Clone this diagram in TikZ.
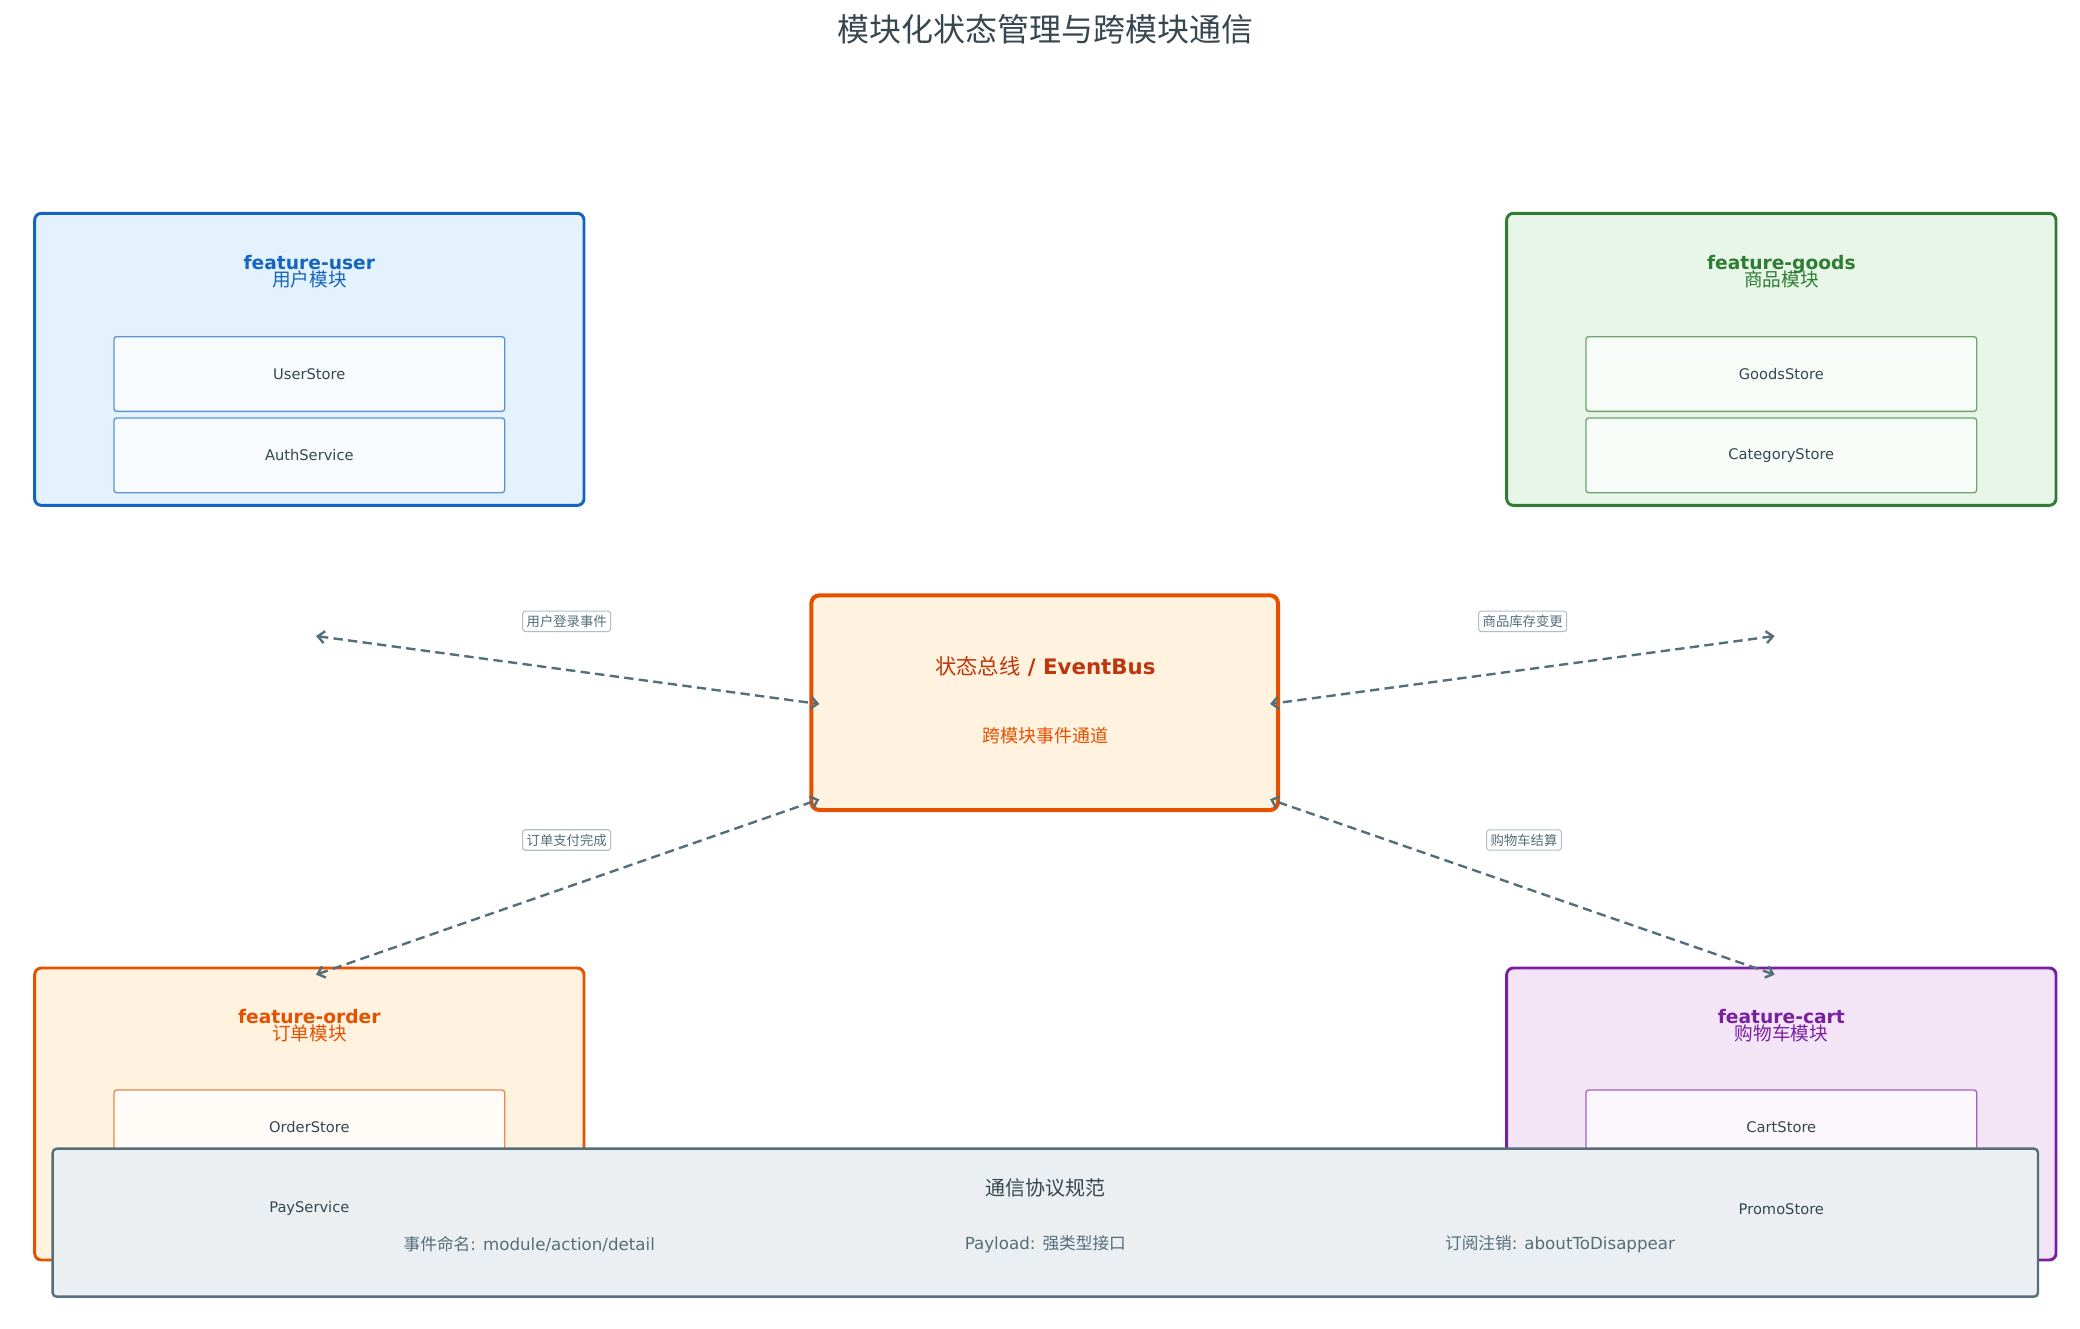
\documentclass[tikz,border=0pt]{standalone}
\usepackage{fontspec}
\setmainfont{DejaVu Sans}
\newfontfamily\cjk{Noto Sans CJK SC}
\usetikzlibrary{positioning,arrows.meta}
\definecolor{usrline}{HTML}{1565C0}\definecolor{usrfill}{HTML}{E3F2FD}
\definecolor{gdsline}{HTML}{2E7D32}\definecolor{gdsfill}{HTML}{E8F5E9}
\definecolor{ordline}{HTML}{E65100}\definecolor{ordfill}{HTML}{FFF3E0}
\definecolor{crtline}{HTML}{7B1FA2}\definecolor{crtfill}{HTML}{F3E5F5}
\definecolor{busdark}{HTML}{BF360C}
\definecolor{slate}{HTML}{546E7A}\definecolor{slatefill}{HTML}{ECEFF1}
\definecolor{txt}{HTML}{37474F}
\tikzset{
  module/.style={rounded corners=5pt, line width=2.2pt, outer sep=0pt, minimum width=412pt, minimum height=219pt, anchor=north west},
  store/.style={rounded corners=2pt, line width=1pt, outer sep=0pt, minimum width=293pt, minimum height=56pt, anchor=north west},
  storetext/.style={font=\fontsize{11}{13}\selectfont, text=txt},
  modtitle/.style={font=\bfseries\fontsize{14}{16}\selectfont, align=center},
  link/.style={{Straight Barb[length=5pt,width=9pt]}-{Straight Barb[length=5pt,width=9pt]}, line width=1.8pt, draw=slate, dash pattern=on 7pt off 4pt},
  tag/.style={draw=slate!45, fill=white, rounded corners=2pt, inner sep=3pt, text=slate, solid, line width=0.8pt, font=\cjk\fontsize{10}{11}\selectfont},
}
\begin{document}
\begin{tikzpicture}[x=1pt,y=-1pt]
\useasboundingbox (0,0) rectangle (1560,996);
\node[font=\cjk\fontsize{24}{28}\selectfont, text=txt] (title) at (784,22) {模块化状态管理与跨模块通信};
% feature-user
\node[module, draw=usrline, fill=usrfill] (user) at (26,160) {};
\node[modtitle, text=usrline] (usert) at (232,204) {feature-user\\[-3pt]{\cjk\mdseries 用户模块}};
\node[store, draw=usrline!70, fill=usrfill!30] (ustore) at (85.5,252.5) {};
\node[storetext] at (ustore.center) {UserStore};
\node[store, draw=usrline!70, fill=usrfill!30] (uauth) at (85.5,313.5) {};
\node[storetext] at (uauth.center) {AuthService};
% feature-goods
\node[module, draw=gdsline, fill=gdsfill] (goods) at (1130,160) {};
\node[modtitle, text=gdsline] (goodst) at (1336,204) {feature-goods\\[-3pt]{\cjk\mdseries 商品模块}};
\node[store, draw=gdsline!70, fill=gdsfill!30] (gstore) at (1189.5,252.5) {};
\node[storetext] at (gstore.center) {GoodsStore};
\node[store, draw=gdsline!70, fill=gdsfill!30] (gcat) at (1189.5,313.5) {};
\node[storetext] at (gcat.center) {CategoryStore};
% feature-order
\node[module, draw=ordline, fill=ordfill] (order) at (26,726) {};
\node[modtitle, text=ordline] (ordert) at (232,769) {feature-order\\[-3pt]{\cjk\mdseries 订单模块}};
\node[store, draw=ordline!70, fill=ordfill!30] (ostore) at (85.5,817.5) {};
\node[storetext] at (ostore.center) {OrderStore};
\node[store, draw=ordline!70, fill=ordfill!30] (opay) at (85.5,878.5) {};
% feature-cart
\node[module, draw=crtline, fill=crtfill] (cart) at (1130,726) {};
\node[modtitle, text=crtline] (cartt) at (1336,769) {feature-cart\\[-3pt]{\cjk\mdseries 购物车模块}};
\node[store, draw=crtline!70, fill=crtfill!30] (cstore) at (1189.5,817.5) {};
\node[storetext] at (cstore.center) {CartStore};
\node[store, draw=crtline!70, fill=crtfill!30] (cpromo) at (1189.5,878.5) {};
% event bus
\node[rounded corners=6pt, line width=3pt, outer sep=0pt, draw=ordline, fill=ordfill, minimum width=350pt, minimum height=161pt] (bus) at (783.5,527) {};
\node[text=busdark, font=\bfseries\fontsize{16}{19}\selectfont] (bust) at (784,500) {{\cjk\mdseries 状态总线} / EventBus};
\node[text=ordline, font=\cjk\fontsize{13.5}{16}\selectfont] (buss) at (784,552) {跨模块事件通道};
% links
\coordinate (pu) at (237,477); \coordinate (pg) at (1331,477);
\coordinate (po) at (237,731); \coordinate (pc) at (1331,731);
\draw[link] (pu) -- ([xshift=6pt,yshift=-1pt]bus.west);
\draw[link] (pg) -- ([xshift=-6pt,yshift=-1pt]bus.east);
\draw[link] (po) -- ([xshift=6pt,yshift=8pt]bus.south west);
\draw[link] (pc) -- ([xshift=-6pt,yshift=8pt]bus.south east);
\node[tag] (lu) at (425,466) {用户登录事件};
\node[tag] (lg) at (1142,466) {商品库存变更};
\node[tag] (lo) at (425,630) {订单支付完成};
\node[tag] (lc) at (1143,630) {购物车结算};
% protocol
\node[rounded corners=3pt, line width=1.8pt, outer sep=0pt, draw=slate, fill=slatefill, minimum width=1489pt, minimum height=111pt, anchor=north west] (proto) at (39.5,861.5) {};
\node[storetext] at (opay.center) {PayService};
\node[storetext] at (cpromo.center) {PromoStore};
\node[text=txt, font=\cjk\fontsize{15}{17}\selectfont] (protot) at (784,891) {通信协议规范};
\node[text=slate, font=\fontsize{12.5}{15}\selectfont] (r1) at (397,933) {{\cjk 事件命名}: module/action/detail};
\node[text=slate, font=\fontsize{12.5}{15}\selectfont] (r2) at (784,933) {Payload: {\cjk 强类型接口}};
\node[text=slate, font=\fontsize{12.5}{15}\selectfont] (r3) at (1170,933) {{\cjk 订阅注销}: aboutToDisappear};
\end{tikzpicture}
\end{document}
